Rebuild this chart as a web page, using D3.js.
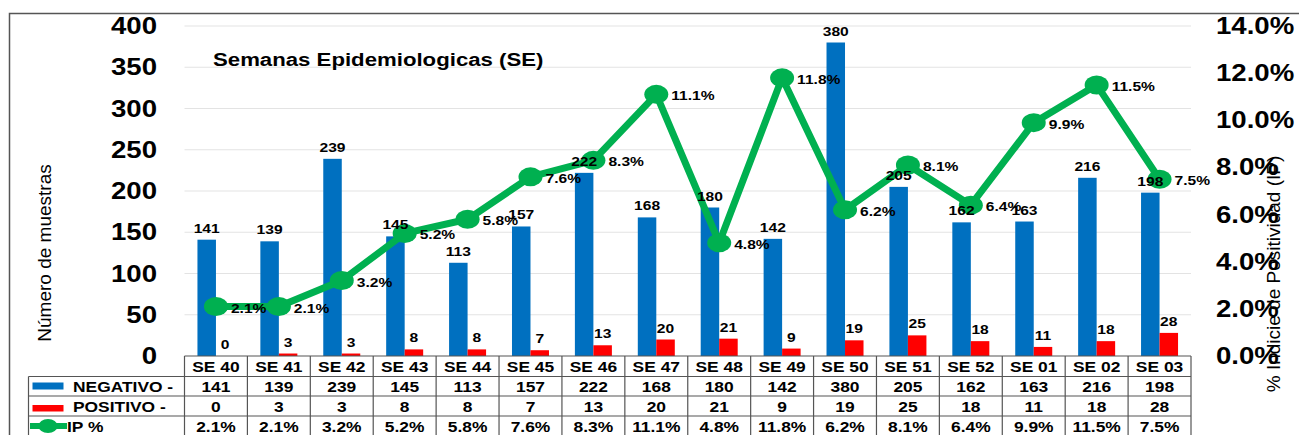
<!DOCTYPE html>
<html>
<head>
<meta charset="utf-8">
<script src="https://cdn.jsdelivr.net/npm/d3@7"></script>
<style>
  html, body { margin: 0; padding: 0; background: #fff; }
  svg { display: block; font-family: "Liberation Sans", Arial, sans-serif; }
</style>
</head>
<body>
<svg id="chart" width="1299" height="435"></svg>
<script>
// data
const weeks    = ["SE 40","SE 41","SE 42","SE 43","SE 44","SE 45","SE 46","SE 47","SE 48","SE 49","SE 50","SE 51","SE 52","SE 01","SE 02","SE 03"];
const negativo = [141,139,239,145,113,157,222,168,180,142,380,205,162,163,216,198];
const positivo = [0,3,3,8,8,7,13,20,21,9,19,25,18,11,18,28];
const ipPct    = [2.1,2.1,3.2,5.2,5.8,7.6,8.3,11.1,4.8,11.8,6.2,8.1,6.4,9.9,11.5,7.5];
const leftTicks  = [0,50,100,150,200,250,300,350,400];
const rightTicks = [0,2,4,6,8,10,12,14];

const BLUE = "#0070c0", RED = "#ff0000", GREEN = "#00b050";
const SX = 1.2; // the reference is stretched sideways

const svg = d3.select("#chart");
const x0 = 184.5, x1 = 1191, yTop = 26, yBase = 356;

const x  = d3.scaleBand().domain(weeks).range([x0, x1]).padding(0);
const yL = d3.scaleLinear().domain([0, 400]).range([yBase, yTop]);
const yR = d3.scaleLinear().domain([0, 14]).range([yBase, yTop]);
const bw = 18.5;

// helper: text squashed/stretched horizontally like the reference
function label(g, tx, ty, str, size, anchor, weight) {
  return g.append("text")
    .attr("transform", `translate(${tx},${ty}) scale(${SX},1)`)
    .attr("text-anchor", anchor || "middle")
    .attr("font-size", size)
    .attr("font-weight", weight || "bold")
    .attr("fill", "#000")
    .text(str);
}

// outer frame
svg.append("path")
  .attr("d", "M9.5,435 L9.5,13.5 L1299,13.5")
  .attr("fill", "none").attr("stroke", "#555").attr("stroke-width", 1.5);

// gridlines
svg.append("g").selectAll("line")
  .data(leftTicks.filter(d => d > 0))
  .join("line")
    .attr("x1", x0).attr("x2", x1)
    .attr("y1", d => yL(d)).attr("y2", d => yL(d))
    .attr("stroke", "#e3e3e3").attr("stroke-width", 1.2);

// left axis labels
const gl = svg.append("g");
leftTicks.forEach(t => label(gl, 157, yL(t) + 8, t, 23, "end"));

// right axis labels
const gr = svg.append("g");
rightTicks.forEach(t => label(gr, 1216, yR(t) + 8, t.toFixed(1) + "%", 23, "start"));

// axis titles
svg.append("text")
  .attr("transform", "translate(51,253) rotate(-90)")
  .attr("text-anchor", "middle").attr("font-size", 19).text("Número de muestras");
svg.append("text")
  .attr("transform", "translate(1280,274) rotate(-90)")
  .attr("text-anchor", "middle").attr("font-size", 19).text("% Indicie de Positividad (IP)");

// chart title
label(svg, 213, 66, "Semanas Epidemiologicas (SE)", 18.5, "start");

// bars
const cx = d => x(d) + x.bandwidth() / 2;
svg.append("g").selectAll("rect")
  .data(weeks)
  .join("rect")
    .attr("x", d => cx(d) - bw)
    .attr("y", (d, i) => yL(negativo[i]))
    .attr("width", bw)
    .attr("height", (d, i) => yBase - yL(negativo[i]))
    .attr("fill", BLUE);
svg.append("g").selectAll("rect")
  .data(weeks)
  .join("rect")
    .attr("x", d => cx(d))
    .attr("y", (d, i) => yL(positivo[i]))
    .attr("width", bw)
    .attr("height", (d, i) => yBase - yL(positivo[i]))
    .attr("fill", RED);

// IP line
const pts = weeks.map((w, i) => [cx(w), yR(ipPct[i])]);
svg.append("path")
  .attr("d", d3.line()(pts))
  .attr("fill", "none").attr("stroke", GREEN)
  .attr("stroke-width", 7).attr("stroke-linejoin", "round");
svg.append("g").selectAll("ellipse")
  .data(pts)
  .join("ellipse")
    .attr("cx", d => d[0]).attr("cy", d => d[1])
    .attr("rx", 12).attr("ry", 9.5)
    .attr("fill", GREEN);

// value labels
const gv = svg.append("g");
weeks.forEach((w, i) => {
  label(gv, cx(w) - bw / 2, yL(negativo[i]) - 7, negativo[i], 13);
  label(gv, cx(w) + bw / 2, yL(positivo[i]) - 7, positivo[i], 13);
  label(gv, pts[i][0] + 15, pts[i][1] + 6, ipPct[i].toFixed(1) + "%", 13, "start");
});

// data table
const rows = [yBase, 376.5, 396, 416, 436];
const tL = 28.5;
const gt = svg.append("g").attr("stroke", "#555").attr("stroke-width", 1.2);
gt.append("line").attr("x1", x0).attr("x2", x1).attr("y1", rows[0]).attr("y2", rows[0]);
rows.slice(1).forEach(r =>
  gt.append("line").attr("x1", tL).attr("x2", x1).attr("y1", r).attr("y2", r));
gt.append("line").attr("x1", tL).attr("x2", tL).attr("y1", rows[1]).attr("y2", 435);
weeks.forEach(w =>
  gt.append("line").attr("x1", x(w)).attr("x2", x(w)).attr("y1", rows[0]).attr("y2", 435));
gt.append("line").attr("x1", x1).attr("x2", x1).attr("y1", rows[0]).attr("y2", 435);

const gtt = svg.append("g");
weeks.forEach((w, i) => {
  label(gtt, cx(w), 372, w, 14.5);
  label(gtt, cx(w), 392, negativo[i], 14.5);
  label(gtt, cx(w), 411.5, positivo[i], 14.5);
  label(gtt, cx(w), 431.5, ipPct[i].toFixed(1) + "%", 14.5);
});

// legend keys in the table
svg.append("rect").attr("x", 32.5).attr("y", 382.5).attr("width", 31).attr("height", 7).attr("fill", BLUE);
svg.append("rect").attr("x", 32.5).attr("y", 405).attr("width", 31).attr("height", 6.5).attr("fill", RED);
svg.append("line").attr("x1", 30).attr("x2", 67).attr("y1", 426).attr("y2", 426)
  .attr("stroke", GREEN).attr("stroke-width", 6);
svg.append("ellipse").attr("cx", 48).attr("cy", 426).attr("rx", 9.5).attr("ry", 7).attr("fill", GREEN);
label(gtt, 73, 392, "NEGATIVO -", 14.5, "start");
label(gtt, 73, 411.5, "POSITIVO -", 14.5, "start");
label(gtt, 67, 431.5, "IP %", 14.5, "start");
</script>
</body>
</html>
